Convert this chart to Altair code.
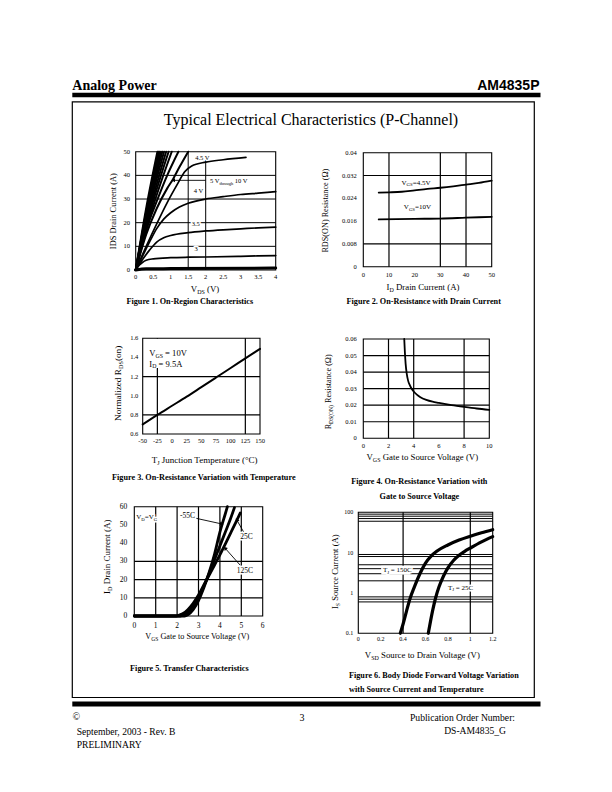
import math
import altair as alt
import pandas as pd

# ------------------------------------------------------------------ data
# Figure 1: On-Region Characteristics  (VDS [V] -> IDS [A]) per VGS
F1_X_TICKS = [0, 0.5, 1, 1.5, 2, 2.5, 3, 3.5, 4]
F1_X_LABELS = ["0", "0.5", "1", "1.5", "2", "2.5", "3", "3.5", "4"]
F1_Y_TICKS = [0, 10, 20, 30, 40, 50]
F1_Y_LABELS = ["0", "10", "20", "30", "40", "50"]
F1_GRID_X = [1.5]
F1_GRID_Y = [10, 20, 30, 40]
F1_BUNDLE_VDS = [
    [0, 0.31, 0.62], [0, 0.33, 0.65], [0, 0.34, 0.68], [0, 0.36, 0.72],
    [0, 0.38, 0.76], [0, 0.40, 0.81], [0, 0.43, 0.87], [0, 0.46, 0.94],
    [0, 0.50, 1.03], [0, 0.3, 0.6, 0.9, 1.22],
    [0, 0.3, 0.6, 0.9, 1.07, 1.25, 1.5],
]
F1_BUNDLE_IDS = [
    [0, 27, 50], [0, 27, 50], [0, 27, 50], [0, 27, 50],
    [0, 27, 50], [0, 27, 50], [0, 27, 50], [0, 27, 50],
    [0, 27, 50], [0, 17, 29, 40, 50],
    [0, 15, 26, 34.5, 38.5, 43.5, 50],
]
F1_VGS45_VDS = [0, 0.3, 0.6, 0.9, 1.2, 1.4, 1.6, 2.0, 2.5, 3.15]
F1_VGS45_IDS = [0, 10, 19.5, 28.5, 36.5, 41.5, 44, 45.6, 46.6, 47.6]
F1_VGS4_VDS = [0, 0.2, 0.4, 0.6, 0.8, 1.0, 1.25, 1.5, 2.0, 2.5, 3.0, 3.5, 4.0]
F1_VGS4_IDS = [0, 6, 12, 17.5, 21.5, 24.2, 26.6, 28.2, 30, 31, 31.9, 32.5, 33.1]
F1_VGS35_VDS = [0, 0.2, 0.4, 0.6, 0.8, 1.0, 1.5, 2.0, 2.5, 3.0, 3.5, 4.0]
F1_VGS35_IDS = [0, 4.5, 8.5, 11.8, 13.6, 14.6, 15.8, 16.5, 17, 17.4, 17.8, 18.1]
F1_VGS3_VDS = [0, 0.1, 0.2, 0.3, 0.5, 1.0, 1.5, 2.0, 3.0, 4.0]
F1_VGS3_IDS = [0, 2, 3.3, 4.1, 4.7, 5.2, 5.4, 5.5, 5.8, 6.1]
F1_VGS25_VDS = [0, 0.3, 1.0, 4.0]
F1_VGS25_IDS = [0, 0.5, 0.6, 0.8]

# Figure 2: On-Resistance vs Drain Current
F2_X_TICKS = [0, 10, 20, 30, 40, 50]
F2_X_LABELS = ["0", "10", "20", "30", "40", "50"]
F2_Y_TICKS = [0, 0.008, 0.016, 0.024, 0.032, 0.04]
F2_Y_LABELS = ["0", "0.008", "0.016", "0.024", "0.032", "0.04"]
F2_GRID_X = [10, 30, 40]
F2_GRID_Y = [0.008, 0.032]
F2_ID = [6, 10, 15, 20, 25, 30, 35, 40, 45, 50]
F2_R_45V = [0.0260, 0.0261, 0.0263, 0.0268, 0.0273, 0.0277, 0.0282, 0.0288, 0.0294, 0.0302]
F2_ID_10 = [6, 20, 30, 40, 50]
F2_R_10V = [0.0166, 0.0168, 0.0169, 0.0172, 0.0175]

# Figure 3: Normalized RDS(on) vs Junction Temperature
F3_X_TICKS = [-50, -25, 0, 25, 50, 75, 100, 125, 150]
F3_X_LABELS = ["-50", "-25", "0", "25", "50", "75", "100", "125", "150"]
F3_Y_TICKS = [0.6, 0.8, 1.0, 1.2, 1.4, 1.6]
F3_Y_LABELS = ["0.6", "0.8", "1.0", "1.2", "1.4", "1.6"]
F3_GRID_X = [-25, 125]
F3_GRID_Y = [0.8, 1.2]
F3_TJ = [-50, -25, 0, 25, 50, 75, 100, 125, 150]
F3_RN = [0.70, 0.80, 0.895, 0.99, 1.09, 1.19, 1.29, 1.39, 1.49]

# Figure 4: RDS(on) vs Gate to Source Voltage
F4_X_TICKS = [0, 2, 4, 6, 8, 10]
F4_X_LABELS = ["0", "2", "4", "6", "8", "10"]
F4_Y_TICKS = [0, 0.01, 0.02, 0.03, 0.04, 0.05, 0.06]
F4_Y_LABELS = ["0", "0.01", "0.02", "0.03", "0.04", "0.05", "0.06"]
F4_GRID_X = [2, 4, 8]
F4_GRID_Y = [0.01, 0.02, 0.03, 0.04, 0.05]
F4_VGS = [3.25, 3.3, 3.36, 3.45, 3.55, 3.7, 3.85, 4.0, 4.25, 4.5, 5.0, 5.5, 6.0, 7.0, 8.0, 9.0, 10.0]
F4_R = [0.06, 0.052, 0.045, 0.039, 0.035, 0.032, 0.0298, 0.0283, 0.0264, 0.0250,
        0.0232, 0.0221, 0.0214, 0.0201, 0.0190, 0.0180, 0.0172]

# Figure 5: Transfer Characteristics
F5_X_TICKS = [0, 1, 2, 3, 4, 5, 6]
F5_X_LABELS = ["0", "1", "2", "3", "4", "5", "6"]
F5_Y_TICKS = [0, 10, 20, 30, 40, 50, 60]
F5_Y_LABELS = ["0", "10", "20", "30", "40", "50", "60"]
F5_GRID_X = [1, 2, 3, 4, 5]
F5_GRID_Y = [10, 20, 30]
F5_M55_VGS = [0, 2.35, 2.5, 2.75, 3.0, 3.25, 3.5, 3.75, 4.0, 4.25, 4.35]
F5_M55_ID = [0, 0, 0.6, 3.5, 8.5, 15.5, 24, 34, 46, 56, 60]
F5_25_VGS = [0, 2.15, 2.3, 2.5, 2.75, 3.0, 3.25, 3.5, 3.75, 4.0, 4.25, 4.5, 4.68]
F5_25_ID = [0, 0, 0.5, 2, 5.5, 10.5, 16.5, 23.5, 31, 38.5, 46, 53.5, 59.5]
F5_125_VGS = [0, 1.95, 2.1, 2.3, 2.5, 2.75, 3.0, 3.25, 3.5, 3.75, 4.0, 4.25, 4.5, 4.75, 4.95]
F5_125_ID = [0, 0, 0.5, 1.5, 3.5, 7, 11.5, 17, 22.5, 28, 33.5, 39.5, 45.5, 51.5, 56.5]

# Figure 6: Body Diode Forward Voltage
F6_X_TICKS = [0, 0.2, 0.4, 0.6, 0.8, 1, 1.2]
F6_X_LABELS = ["0", "0.2", "0.4", "0.6", "0.8", "1", "1.2"]
F6_Y_TICKS = [0.1, 1, 10, 100]
F6_Y_LABELS = ["0.1", "1", "10", "100"]
F6_GRID_X = [0.4, 1.0]
F6_GRID_Y = [0.6, 0.7, 0.8, 2, 3, 4, 5, 8, 9, 60, 70, 80, 90]
F6_150_VSD = [0.375, 0.4, 0.43, 0.46, 0.5, 0.55, 0.6, 0.65, 0.7, 0.8, 0.9, 1.0, 1.1, 1.2]
F6_150_IS = [0.1, 0.17, 0.35, 0.7, 1.4, 3.0, 5.5, 8.2, 10.8, 15.5, 20.5, 25.5, 31, 37]
F6_25_VSD = [0.625, 0.645, 0.665, 0.69, 0.72, 0.76, 0.8, 0.85, 0.9, 0.95, 1.0, 1.1, 1.2]
F6_25_IS = [0.1, 0.2, 0.38, 0.75, 1.4, 2.6, 4.2, 6.4, 8.6, 10.8, 13, 18.5, 25]

# ------------------------------------------------------------------ helpers
SERIF = "Liberation Serif"
SANS = "Liberation Sans"
M = 8
W, H = 596, 776
SUBF = 0.68
ONE = alt.InlineData(values=[{"k": 0}])

TW = {c: 500 for c in "0123456789"}
TW.update({" ": 250, "(": 333, ")": 333, ",": 250, "-": 333, ".": 250, ":": 278, "=": 564,
           "_": 500, "°": 400, "Ω": 768, "©": 760,
           "A": 722, "B": 667, "C": 667, "D": 722, "E": 611, "F": 556, "G": 722, "H": 722,
           "I": 333, "J": 389, "K": 722, "L": 611, "M": 889, "N": 722, "O": 722, "P": 556,
           "Q": 722, "R": 667, "S": 556, "T": 611, "U": 722, "V": 722, "W": 944, "X": 722,
           "Y": 722, "Z": 611, "a": 444, "b": 500, "c": 444, "d": 500, "e": 444, "f": 333,
           "g": 500, "h": 500, "i": 278, "j": 278, "k": 500, "l": 278, "m": 778, "n": 500,
           "o": 500, "p": 500, "q": 500, "r": 333, "s": 389, "t": 278, "u": 500, "v": 500,
           "w": 722, "x": 500, "y": 500, "z": 444})
TWB = dict(TW)
TWB.update({":": 333, "C": 722, "E": 667, "F": 611, "G": 778, "H": 778, "I": 389, "J": 500,
            "K": 778, "L": 667, "M": 944, "O": 778, "P": 611, "Q": 778, "R": 722, "T": 667,
            "W": 1000, "Z": 667, "a": 500, "b": 556, "d": 556, "h": 556, "j": 333, "k": 556,
            "m": 833, "n": 556, "p": 556, "q": 556, "r": 444, "t": 333, "u": 556})


def tw(s, size, bold=False):
    table = TWB if bold else TW
    return sum(table.get(c, 500) for c in s) / 1000.0 * size


def vtext(x, y, s, size, angle=0, align="left", bold=False, font=SERIF):
    return alt.Chart(ONE).mark_text(
        text=s, font=font, fontSize=size, fontWeight="bold" if bold else "normal",
        align=align, baseline="alphabetic", angle=angle, color="black",
    ).encode(x=alt.value(round(x - M, 2)), y=alt.value(round(y - M, 2)))


def layout_parts(parts, size, bold=False):
    """Return (text, size, offset, is_sub) for each part; leading blanks become offsets."""
    out = []
    off = 0.0
    for t, k in parts:
        s = size * (SUBF if k == "s" else 1)
        lead = len(t) - len(t.lstrip(" "))
        off += tw(" " * lead, s, bold)
        body = t.lstrip(" ")
        out.append((body, s, off, k == "s"))
        off += tw(body, s, bold)
    return out, off


def vrich(cx, cy, parts, size, angle=0, align="center", bold=False):
    pieces, total = layout_parts(parts, size, bold)
    start = {"left": 0, "center": -total / 2, "right": -total}[align]
    out = []
    for body, s, off, sub in pieces:
        down = 0.33 * size + (0.22 * size if sub else 0)
        if angle == 0:
            out.append(vtext(cx + start + off, cy + down, body, s, 0, "left", bold))
        else:
            out.append(vtext(cx + down, cy - start - off, body, s, 270, "left", bold))
    return out


def vrect(x0, y0, x1, y1, filled=True, sw=1.0):
    if filled:
        mk = alt.Chart(ONE).mark_rect(color="black")
    else:
        mk = alt.Chart(ONE).mark_rect(fillOpacity=0, stroke="black", strokeWidth=sw)
    return mk.encode(x=alt.value(x0 - M), x2=alt.value(x1 - M),
                     y=alt.value(y0 - M), y2=alt.value(y1 - M))


class Panel:
    def __init__(self, xdom, ydom, xpx, ypx, ylog=False):
        self.xdom, self.ydom, self.xpx, self.ypx, self.ylog = xdom, ydom, xpx, ypx, ylog
        self.xs = alt.Scale(domain=list(xdom), range=[xpx[0] - M, xpx[1] - M], nice=False, zero=False)
        if ylog:
            self.ys = alt.Scale(type="log", domain=list(ydom), range=[ypx[0] - M, ypx[1] - M], nice=False)
        else:
            self.ys = alt.Scale(domain=list(ydom), range=[ypx[0] - M, ypx[1] - M], nice=False, zero=False)
        self.grids, self.boxes, self.halos, self.lines, self.marks, self.texts = [], [], [], [], [], []
        self.top = []

    def pix(self, x, y):
        fx = self.xpx[0] + (x - self.xdom[0]) / (self.xdom[1] - self.xdom[0]) * (self.xpx[1] - self.xpx[0])
        if self.ylog:
            t = (math.log10(y) - math.log10(self.ydom[0])) / (math.log10(self.ydom[1]) - math.log10(self.ydom[0]))
        else:
            t = (y - self.ydom[0]) / (self.ydom[1] - self.ydom[0])
        return fx, self.ypx[0] + t * (self.ypx[1] - self.ypx[0])

    def XD(self, v):
        return alt.XDatum(v, scale=self.xs, axis=None)

    def YD(self, v):
        return alt.YDatum(v, scale=self.ys, axis=None)

    def XF(self, f):
        return alt.X(f, type="quantitative", scale=self.xs, axis=None)

    def YF(self, f):
        return alt.Y(f, type="quantitative", scale=self.ys, axis=None)

    def vgrid(self, xs, y0=None, y1=None, width=1.0):
        df = pd.DataFrame({"x": xs})
        self.grids.append(alt.Chart(df).mark_rule(color="black", strokeWidth=width).encode(
            x=self.XF("x"),
            y=self.YD(self.ydom[0] if y0 is None else y0),
            y2=alt.Y2Datum(self.ydom[1] if y1 is None else y1)))

    def hgrid(self, ys, x0=None, x1=None, width=1.0):
        df = pd.DataFrame({"y": ys})
        self.grids.append(alt.Chart(df).mark_rule(color="black", strokeWidth=width).encode(
            y=self.YF("y"),
            x=self.XD(self.xdom[0] if x0 is None else x0),
            x2=alt.X2Datum(self.xdom[1] if x1 is None else x1)))

    def box(self, x0, y0, x1, y1):
        # white label background
        self.boxes.append(alt.Chart(ONE).mark_rect(color="white").encode(
            x=self.XD(x0), x2=alt.X2Datum(x1), y=self.YD(y0), y2=alt.Y2Datum(y1)))

    def curves(self, xs_list, ys_list, width):
        rows = []
        for i, (xs, ys) in enumerate(zip(xs_list, ys_list)):
            for x, y in zip(xs, ys):
                rows.append({"s": i, "x": x, "y": y})
        df = pd.DataFrame(rows)
        self.lines.append(alt.Chart(df).mark_line(
            color="black", strokeWidth=width, interpolate="monotone",
            strokeCap="round", strokeJoin="round").encode(
            x=self.XF("x"), y=self.YF("y"), detail="s:N"))

    def seg(self, x0, y0, x1, y1, width=0.9):
        self.marks.append(alt.Chart(ONE).mark_rule(color="black", strokeWidth=width).encode(
            x=self.XD(x0), x2=alt.X2Datum(x1), y=self.YD(y0), y2=alt.Y2Datum(y1)))

    def arrow(self, x0, y0, x1, y1, width=0.9, size=18):
        self.seg(x0, y0, x1, y1, width)
        ax, ay = self.pix(x0, y0)
        bx, by = self.pix(x1, y1)
        ang = round(math.degrees(math.atan2(bx - ax, -(by - ay))) % 360, 1)
        self.marks.append(alt.Chart(ONE).mark_point(
            shape="triangle", filled=True, color="black", opacity=1, size=size, angle=ang,
            strokeWidth=0).encode(x=self.XD(x1), y=self.YD(y1)))

    def label(self, x, y, parts, size, halo=True):
        pieces, _ = layout_parts(parts, size)
        for body, s, off, sub in pieces:
            dy = 0.33 * size + (0.22 * size if sub else 0)
            enc = dict(x=self.XD(x), y=self.YD(y))
            common = dict(text=body, font=SERIF, fontSize=s, align="left", baseline="alphabetic",
                          dx=round(off, 2), dy=round(dy, 2))
            if halo:
                self.halos.append(alt.Chart(ONE).mark_text(
                    color="white", stroke="white", strokeWidth=3, strokeJoin="round", **common).encode(**enc))
            self.texts.append(alt.Chart(ONE).mark_text(color="black", **common).encode(**enc))

    def frame(self, xticks, xlabels, yticks, ylabels, xdy, ydx, xsize, ysize, sw=1.1):
        self.top.append(alt.Chart(ONE).mark_rect(fillOpacity=0, stroke="black", strokeWidth=sw).encode(
            x=self.XD(self.xdom[0]), x2=alt.X2Datum(self.xdom[1]),
            y=self.YD(self.ydom[0]), y2=alt.Y2Datum(self.ydom[1])))
        dfx = pd.DataFrame({"v": xticks, "t": xlabels})
        self.top.append(alt.Chart(dfx).mark_text(
            font=SERIF, fontSize=xsize, align="center", baseline="middle", dy=xdy, color="black").encode(
            x=self.XF("v"), y=self.YD(self.ydom[0]), text="t:N"))
        dfy = pd.DataFrame({"v": yticks, "t": ylabels})
        self.top.append(alt.Chart(dfy).mark_text(
            font=SERIF, fontSize=ysize, align="right", baseline="middle", dx=-ydx, color="black").encode(
            y=self.YF("v"), x=self.XD(self.xdom[0]), text="t:N"))

    def chart(self):
        return alt.layer(*(self.grids + self.boxes + self.halos + self.lines + self.marks
                           + self.texts + self.top))


# ------------------------------------------------------------------ panels
# Figure 1
p1 = Panel((0, 4), (0, 50), (135.7, 275.7), (270, 151.7))
p1.hgrid(F1_GRID_Y)
p1.vgrid(F1_GRID_X)
p1.vgrid([2.0], 0, 46.5)
p1.label(1.70, 47.6, [("4.5 V", "n")], 6.5)
p1.label(1.66, 33.6, [("4 V", "n")], 6.5)
p1.label(1.60, 19.6, [("3.5", "n")], 6.5)
p1.label(1.68, 9.0, [("3", "n")], 6.5)
p1.label(2.12, 37.6, [("5 V", "n"), ("through", "s"), (" 10 V", "n")], 6.5)
p1.curves(F1_BUNDLE_VDS, F1_BUNDLE_IDS, 2.0)
p1.curves([F1_VGS45_VDS, F1_VGS4_VDS, F1_VGS35_VDS, F1_VGS3_VDS],
          [F1_VGS45_IDS, F1_VGS4_IDS, F1_VGS35_IDS, F1_VGS3_IDS], 1.7)
p1.curves([F1_VGS25_VDS], [F1_VGS25_IDS], 3.0)
p1.arrow(2.0, 37.9, 1.09, 37.9, 0.9, 16)
p1.frame(F1_X_TICKS, F1_X_LABELS, F1_Y_TICKS, F1_Y_LABELS, 6.7, 5.7, 6.5, 6.5)

# Figure 2
p2 = Panel((0, 50), (0, 0.04), (363.3, 491.7), (266.7, 152.7))
p2.hgrid(F2_GRID_Y, width=1.2)
p2.vgrid(F2_GRID_X, width=1.2)
p2.curves([F2_ID, F2_ID_10], [F2_R_45V, F2_R_10V], 1.8)
p2.label(14.9, 0.0295, [("V", "n"), ("GS", "s"), ("=4.5V", "n")], 7, halo=False)
p2.label(15.8, 0.0210, [("V", "n"), ("GS", "s"), ("=10V", "n")], 7, halo=False)
p2.frame(F2_X_TICKS, F2_X_LABELS, F2_Y_TICKS, F2_Y_LABELS, 8.3, 6.6, 6.5, 6.5)

# Figure 3
p3 = Panel((-50, 150), (0.6, 1.6), (142.7, 260), (434, 338.3))
p3.hgrid(F3_GRID_Y, width=1.2)
p3.vgrid(F3_GRID_X, width=1.2)
p3.box(-44, 1.29, 17, 1.595)
p3.curves([F3_TJ], [F3_RN], 2.0)
p3.label(-38.8, 1.44, [("V", "n"), ("GS", "s"), (" = 10V", "n")], 8.6, halo=False)
p3.label(-38.8, 1.335, [("I", "n"), ("D", "s"), (" = 9.5A", "n")], 8.6, halo=False)
p3.frame(F3_X_TICKS, F3_X_LABELS, F3_Y_TICKS, F3_Y_LABELS, 7.0, 4.4, 6.5, 6.5)

# Figure 4
p4 = Panel((0, 10), (0, 0.06), (363.3, 489.3), (438.3, 339))
p4.hgrid(F4_GRID_Y, width=1.2)
p4.vgrid(F4_GRID_X, width=1.2)
p4.curves([F4_VGS], [F4_R], 1.8)
p4.frame(F4_X_TICKS, F4_X_LABELS, F4_Y_TICKS, F4_Y_LABELS, 7.7, 6.6, 6.5, 6.5)

# Figure 5
p5 = Panel((0, 6), (0, 60), (134.3, 262.7), (616, 506.7))
p5.hgrid(F5_GRID_Y, width=1.2)
p5.vgrid(F5_GRID_X, width=1.2)
p5.curves([F5_M55_VGS, F5_25_VGS, F5_125_VGS], [F5_M55_ID, F5_25_ID, F5_125_ID], 2.8)
p5.label(0.09, 54.3, [("V", "n"), ("D", "s"), ("=V", "n"), ("G", "s")], 7)
p5.label(2.14, 55.4, [("-55C", "n")], 7.5)
p5.label(4.95, 43.5, [("25C", "n")], 7.5)
p5.label(4.79, 24.9, [("125C", "n")], 7.5)
p5.arrow(2.9, 53.6, 4.06, 50.6, 0.9, 18)
p5.arrow(5.1, 46.3, 4.8, 52.5, 0.9, 18)
p5.arrow(4.94, 28.0, 4.26, 37.0, 0.9, 18)
p5.frame(F5_X_TICKS, F5_X_LABELS, F5_Y_TICKS, F5_Y_LABELS, 10.0, 7.0, 7.5, 7.5)

# Figure 6
p6 = Panel((0, 1.2), (0.1, 100), (358.3, 492.7), (633.3, 512.3), ylog=True)
p6.hgrid(F6_GRID_Y, width=1.0)
p6.vgrid(F6_GRID_X, width=1.2)
p6.box(0.205, 2.85, 0.465, 4.75)
p6.curves([F6_150_VSD, F6_25_VSD], [F6_150_IS, F6_25_IS], 3.2)
p6.label(0.22, 3.7, [("T", "n"), ("J", "s"), (" = 150C", "n")], 7)
p6.label(0.80, 1.38, [("T", "n"), ("J", "s"), (" = 25C", "n")], 7)
p6.frame(F6_X_TICKS, F6_X_LABELS, F6_Y_TICKS, F6_Y_LABELS, 6.0, 5.0, 6.0, 6.0)

# ------------------------------------------------------------------ page
page = []
page.append(vtext(72.3, 89.6, "Analog Power", 14, bold=True))
page.append(vtext(539.5, 89.6, "AM4835P", 14, align="right", bold=True, font=SANS))
page.append(vrect(72.3, 92.7, 540.5, 97.3))
page.append(vrect(72.3, 101.8, 534.3, 697.5, filled=False, sw=1.2))
page.append(vtext(311, 125.3, "Typical Electrical Characteristics (P-Channel)", 16, align="center"))
page.append(vrect(72.3, 701.5, 540.5, 706.5))

# axis titles
page += vrich(113.3, 211.0, [("IDS Drain Current (A)", "n")], 8.4, angle=270)
page += vrich(205.0, 289.0, [("V", "n"), ("DS", "s"), (" (V)", "n")], 8.8)
page += vrich(325.0, 210.5, [("RDS(ON) Resistance (Ω)", "n")], 8.2, angle=270)
page += vrich(423.0, 287.0, [("I", "n"), ("D", "s"), (" Drain Current (A)", "n")], 8.8)
page += vrich(118.3, 383.3, [("Normalized R", "n"), ("DS", "s"), ("(on)", "n")], 9.2, angle=270)
page += vrich(205.0, 460.0, [("T", "n"), ("J", "s"), (" Junction Temperature (°C)", "n")], 9)
page += vrich(328.3, 391.7, [("R", "n"), ("DS(ON)", "s"), (" Resistance (Ω)", "n")], 8.2, angle=270)
page += vrich(423.0, 456.7, [("V", "n"), ("GS", "s"), (" Gate to Source Voltage (V)", "n")], 8.8)
page += vrich(106.7, 556.7, [("I", "n"), ("D", "s"), (" Drain Current (A)", "n")], 9, angle=270)
page += vrich(198.0, 636.7, [("V", "n"), ("GS", "s"), (" Gate to Source Voltage (V)", "n")], 8.2)
page += vrich(335.0, 571.7, [("I", "n"), ("S", "s"), (" Source Current (A)", "n")], 8.6, angle=270)
page += vrich(423.0, 655.0, [("V", "n"), ("SD", "s"), (" Source to Drain Voltage (V)", "n")], 8.8)

# captions
CAP = 8.2
page += vrich(190.0, 301.5, [("Figure 1. On-Region Characteristics", "n")], CAP, bold=True)
page += vrich(424.0, 301.5, [("Figure 2. On-Resistance with Drain Current", "n")], CAP, bold=True)
page += vrich(205.0, 477.0, [("Figure 3. On-Resistance Variation with Temperature", "n")], CAP, bold=True)
page += vrich(420.0, 481.5, [("Figure 4. On-Resistance Variation with", "n")], CAP, bold=True)
page += vrich(420.0, 496.5, [("Gate to Source Voltage", "n")], CAP, bold=True)
page += vrich(190.0, 668.0, [("Figure 5. Transfer Characteristics", "n")], CAP, bold=True)
page += vrich(349.0, 675.0, [("Figure 6. Body Diode Forward Voltage Variation", "n")], CAP, align="left", bold=True)
page += vrich(349.0, 689.0, [("with Source Current and Temperature", "n")], CAP, align="left", bold=True)

# footer
page.append(vtext(72.5, 720.0, "©", 10))
page.append(vtext(302, 721.0, "3", 10, align="center"))
page.append(vtext(515, 721.0, "Publication Order Number:", 9.6, align="right"))
page.append(vtext(76.7, 734.5, "September, 2003 - Rev. B", 9.6))
page.append(vtext(506, 734.0, "DS-AM4835_G", 9.6, align="right"))
page.append(vtext(76.7, 747.5, "PRELIMINARY", 9.6))

layers = page + [p.chart() for p in (p1, p2, p3, p4, p5, p6)]

chart = alt.layer(*layers).resolve_scale(
    x="independent", y="independent"
).properties(
    width=W, height=H, padding=0,
    autosize=alt.AutoSizeParams(type="none"),
    background="white",
).configure_view(strokeWidth=0)

chart.save("out.html", embed_options={"renderer": "svg", "actions": False})
